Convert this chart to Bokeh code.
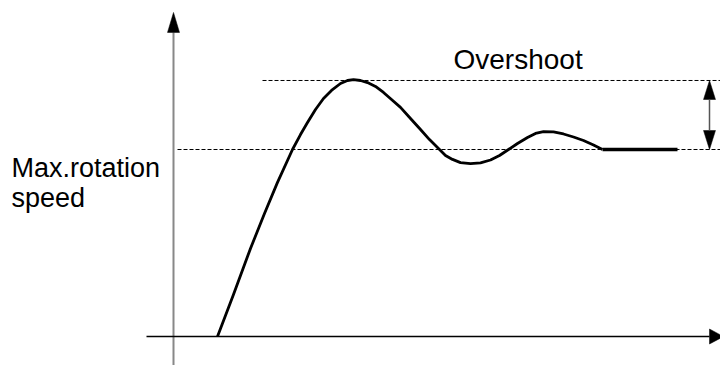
from bokeh.plotting import figure
from bokeh.models import Range1d
from bokeh.core.properties import value
from bokeh.embed import file_html
from bokeh.resources import INLINE

# ---- data (time in arbitrary units, speed in % of max rotation speed) ----
time = [44, 60, 77, 91, 104, 119, 127, 134, 142, 150, 158, 167, 174, 180,
        187, 194, 202, 210, 218, 227, 237, 247, 256, 264, 272, 279, 287,
        297, 307, 317, 326, 335, 344, 354, 362, 370, 380, 390, 400, 410,
        420, 429]
speed = [0, 22.5, 47.1, 65.8, 82.4, 100.0, 108.0, 114.4, 121.4, 127.3,
         131.6, 135.3, 136.9, 137.4, 136.9, 135.8, 133.7, 130.5, 126.7,
         122.5, 116.6, 110.7, 105.3, 101.1, 96.8, 94.7, 93.0, 92.4, 92.8,
         94.4, 96.8, 100.0, 103.2, 106.4, 108.6, 109.6, 109.4, 108.3, 106.7,
         104.8, 102.4, 100.0]
settle_time = [429, 504]
settle_speed = [100.0, 100.0]

steady_level = 100.0
overshoot_level = 136.9
steady_line_t = [4, 547]
overshoot_line_t = [89, 547]

x_axis_t = [-27, 536]
y_axis_v = [-15.5, 162.6]
marker_t = 536

label_overshoot = "Overshoot"
label_y = ["Max.rotation", "speed"]
label_y_t = [-162, -162]
label_y_v = [90.0, 74.0]
label_o_t = [280]
label_o_v = [148.1]

# ---- pixel scale ----
PX_T = 1.0   # px per time unit
PX_V = 1.87  # px per speed unit

W, H = 720, 365
x0, x1 = -173, -173 + W / PX_T
y1 = 336 / PX_V
y0 = y1 - H / PX_V

p = figure(width=W, height=H, output_backend="svg", toolbar_location=None,
           x_range=Range1d(x0, x1), y_range=Range1d(y0, y1),
           min_border=0, min_border_left=0, min_border_right=0,
           min_border_top=0, min_border_bottom=0)
p.axis.visible = False
p.grid.visible = False
p.outline_line_color = None
p.background_fill_color = "white"
p.border_fill_color = "white"

# dashed reference lines
p.line(steady_line_t, [steady_level] * 2, line_color="black",
       line_width=1, line_dash="4 2")
p.line(overshoot_line_t, [overshoot_level] * 2, line_color="black",
       line_width=1, line_dash="4 2")

# axes
p.line([0, 0], y_axis_v, line_color="#888888", line_width=2)
p.line(x_axis_t, [0, 0], line_color="black", line_width=1.6)

def head(tip_t, tip_v, dir_t, dir_v, length_px, half_w_px):
    bt = tip_t - dir_t * length_px / PX_T
    bv = tip_v - dir_v * length_px / PX_V
    pt, pv = -dir_v, dir_t
    xs = [tip_t, bt + pt * half_w_px / PX_T, bt - pt * half_w_px / PX_T]
    ys = [tip_v, bv + pv * half_w_px / PX_V, bv - pv * half_w_px / PX_V]
    return xs, ys

heads = [
    head(0, y_axis_v[1] + 20 / PX_V, 0, 1, 20, 6),
    head(x_axis_t[1] + 14, 0, 1, 0, 14, 7.5),
    head(marker_t, overshoot_level, 0, 1, 19, 6),
    head(marker_t, steady_level, 0, -1, 19, 6),
]
p.patches([h[0] for h in heads], [h[1] for h in heads],
          fill_color="black", line_color="black", line_width=0.5)

# overshoot marker shaft
p.line([marker_t, marker_t], [steady_level + 19 / PX_V, overshoot_level - 19 / PX_V],
       line_color="#555555", line_width=1.5)

# response curve
p.line(time, speed, line_color="black", line_width=2.8, line_join="round")
p.line(settle_time, settle_speed, line_color="black", line_width=3.6)

# labels
p.text(x=label_o_t, y=label_o_v, text=[label_overshoot],
       text_font=value("Liberation Sans"), text_font_size="28px",
       text_color="black", text_baseline="alphabetic", text_align="left")
p.text(x=label_y_t, y=label_y_v, text=label_y,
       text_font=value("Liberation Sans"), text_font_size="27px",
       text_color="black", text_baseline="alphabetic", text_align="left")

open("out.html", "w").write(file_html(p, INLINE))
